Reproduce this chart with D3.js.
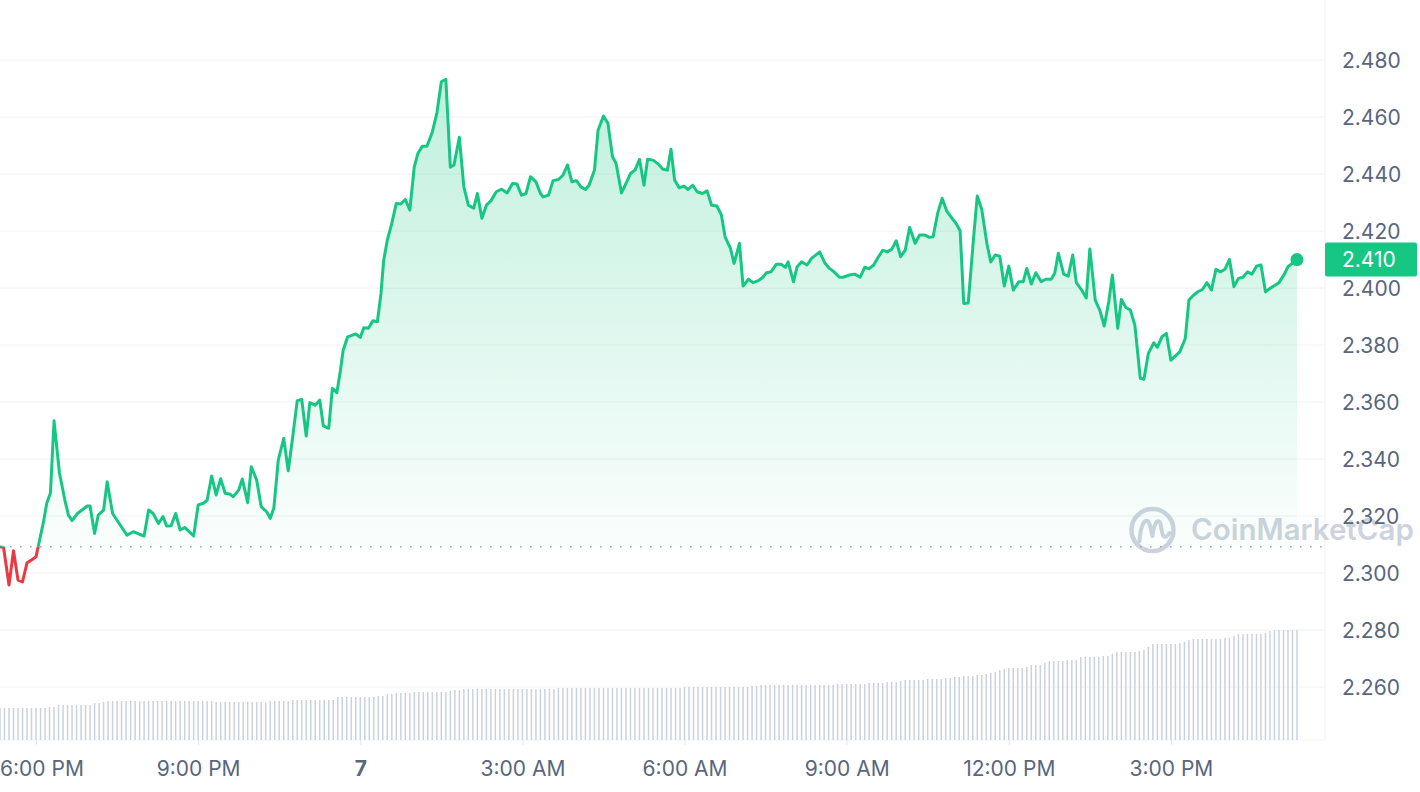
<!DOCTYPE html>
<html><head><meta charset="utf-8">
<script src="https://cdn.jsdelivr.net/npm/d3@7"></script>
<style>html,body{margin:0;padding:0;background:#fff;} svg{display:block;font-family:Inter,"Noto Sans",sans-serif;}</style>
</head><body><svg id="c" width="1420" height="792"></svg>
<script>
// ---------- DATA ----------
const priceMinutes = [0,4,10,15,20,25,30,35,40,48,52,56,60,66,72,76,80,86,91,97,100,105,109,115,119,125,131,141,148,154,160,165,170,176,181,185,190,195,200,205,210,215,220,226,230,235,240,245,250,255,259,265,269,275,279,285,290,296,300,304,309,315,320,325,330,335,340,344,350,355,359,365,369,374,378,381,386,395,400,404,409,414,419,423,426,430,435,440,445,450,455,460,464,469,474,480,485,490,495,500,504,510,515,520,526,530,535,540,545,551,557,563,569,574,579,584,589,595,600,603,609,614,620,625,630,635,640,645,650,654,660,664,670,675,680,684,690,695,700,705,710,715,719,725,731,736,741,745,749,754,759,764,769,774,780,785,790,796,801,805,811,815,821,825,831,836,842,847,851,856,862,867,872,875,881,885,890,896,901,907,910,916,921,926,932,936,943,949,955,960,965,970,975,980,985,990,995,1000,1005,1010,1016,1021,1027,1032,1036,1041,1046,1051,1057,1061,1066,1070,1075,1081,1085,1090,1096,1100,1105,1110,1115,1120,1125,1131,1136,1140,1145,1150,1156,1161,1167,1171,1175,1181,1186,1191,1195,1201,1206,1210,1216,1221,1226,1231,1235,1241,1245,1250,1255,1260,1266,1270,1275,1281,1285,1290,1295,1300,1306,1310,1316,1320,1325,1330,1335,1340,1345,1350,1355,1360,1365,1370,1375,1380,1385,1390,1395,1400,1405,1410,1416,1420,1426,1430,1440];
const priceValues = [2.3092,2.3089,2.2958,2.3078,2.2975,2.2969,2.3036,2.3046,2.3057,2.3175,2.3246,2.3281,2.3534,2.3351,2.3256,2.3203,2.3184,2.3209,2.3221,2.3235,2.3235,2.3139,2.3203,2.3221,2.3320,2.3209,2.3180,2.3133,2.3145,2.3137,2.3130,2.3221,2.3209,2.3174,2.3198,2.3165,2.3166,2.3209,2.3151,2.3160,2.3145,2.3130,2.3239,2.3245,2.3256,2.3340,2.3274,2.3331,2.3280,2.3277,2.3268,2.3291,2.3330,2.3247,2.3373,2.3326,2.3233,2.3215,2.3192,2.3227,2.3397,2.3473,2.3359,2.3478,2.3605,2.3609,2.3481,2.3598,2.3589,2.3607,2.3516,2.3508,2.3648,2.3633,2.3712,2.3782,2.3829,2.3839,2.3827,2.3861,2.3859,2.3885,2.3882,2.3981,2.4098,2.4168,2.4227,2.4297,2.4295,2.4311,2.4274,2.4426,2.4473,2.4498,2.4498,2.4548,2.4613,2.4724,2.4733,2.4424,2.4432,2.4529,2.4355,2.4291,2.4280,2.4332,2.4245,2.4291,2.4306,2.4338,2.4347,2.4334,2.4367,2.4365,2.4326,2.4332,2.4391,2.4373,2.4332,2.4320,2.4326,2.4377,2.4381,2.4396,2.4432,2.4373,2.4377,2.4355,2.4346,2.4361,2.4414,2.4554,2.4604,2.4578,2.4461,2.4438,2.4334,2.4367,2.4402,2.4414,2.4452,2.4361,2.4452,2.4449,2.4435,2.4417,2.4414,2.4487,2.4379,2.4352,2.4358,2.4346,2.4361,2.4338,2.4332,2.4341,2.4291,2.4288,2.4256,2.4180,2.4139,2.4087,2.4157,2.4007,2.4031,2.4019,2.4026,2.4038,2.4054,2.4057,2.4084,2.4084,2.4073,2.4092,2.4022,2.4075,2.4092,2.4081,2.4104,2.4119,2.4127,2.4087,2.4069,2.4057,2.4038,2.4038,2.4046,2.4049,2.4038,2.4073,2.4068,2.4081,2.4108,2.4133,2.4127,2.4136,2.4166,2.4110,2.4133,2.4213,2.4157,2.4186,2.4186,2.4178,2.4180,2.4262,2.4315,2.4271,2.4245,2.4229,2.4201,2.3946,2.3948,2.4180,2.4323,2.4276,2.4151,2.4092,2.4116,2.4112,2.4007,2.4077,2.3993,2.4022,2.4022,2.4069,2.4014,2.4054,2.4022,2.4031,2.4031,2.4052,2.4122,2.4049,2.4042,2.4116,2.4019,2.3993,2.3965,2.4137,2.3958,2.3923,2.3867,2.3952,2.4046,2.3859,2.3960,2.3932,2.3923,2.3870,2.3683,2.3680,2.3771,2.3808,2.3792,2.3829,2.3841,2.3747,2.3765,2.3777,2.3824,2.3958,2.3975,2.3987,2.3995,2.4019,2.3993,2.4066,2.4057,2.4066,2.4101,2.4005,2.4034,2.4038,2.4057,2.4049,2.4077,2.4081,2.3987,2.3999,2.4011,2.4019,2.4049,2.4075,2.4100];
// volume bars, one every 5 minutes (relative units)
const volumeValues = [
32,32,32,32,32,32,32,32,32,32,32,33,
33,35,35,35,35,35,35,35,35,37,37,38,
39,39,39,39,39,39,39,39,39,39,39,39,
39,39,39,39,39,39,39,39,39,39,39,39,
38,38,38,38,38,38,38,38,38,38,38,38,
39,39,39,39,39,40,40,40,40,40,40,40,
40,40,40,43,43,43,43,43,43,43,43,43,
44,44,46,46,47,47,47,47,48,48,48,48,
48,48,48,48,49,50,50,51,51,51,51,51,
51,51,51,51,51,51,51,51,51,51,51,51,
51,51,51,51,52,52,52,52,52,52,52,52,
52,52,52,52,52,52,52,52,52,52,52,52,
52,52,52,52,52,52,52,52,53,53,53,53,
53,53,53,53,53,53,53,53,53,53,53,54,
54,55,55,55,55,55,55,55,55,55,55,55,
55,55,55,55,55,55,56,56,56,56,56,56,
56,57,57,57,57,58,58,58,59,60,60,60,
60,60,61,61,61,61,62,62,63,63,64,64,
64,65,65,66,67,68,70,71,72,72,72,72,
73,75,75,75,77,79,79,79,79,80,80,80,
83,83,83,83,83,84,84,86,88,88,88,88,
88,89,90,93,96,96,96,96,96,96,97,98,
100,101,101,101,101,101,101,101,102,102,104,106,
106,106,106,106,106,107,109,110,110,110,110,110,
110];
const volumeStepMinutes = 5;
const yTickValues = [2.26,2.28,2.30,2.32,2.34,2.36,2.38,2.40,2.42,2.44,2.46,2.48];
const xTickMinutes = [40,220,400,580,760,940,1120,1300];
const xTickLabels = ["6:00 PM","9:00 PM","7","3:00 AM","6:00 AM","9:00 AM","12:00 PM","3:00 PM"];
const startTime = new Date(2024,0,6,17,20);
const windowMinutes = 1440;

// ---------- LAYOUT ----------
const W = 1420, H = 792;
const plotRight = 1325, plotBottom = 740, dataRight = 1297;
const GREEN = "#16c784", RED = "#ea3943", GRID = "#eff2f5", LABEL = "#58667e";

const tOf = m => new Date(startTime.getTime() + m*60000);
const data = priceMinutes.map((m,i)=>({t:tOf(m), p:priceValues[i]}));

const x = d3.scaleTime().domain([startTime, tOf(windowMinutes)]).range([0, dataRight]);
const y = d3.scaleLinear().domain([2.2414, 2.5011]).range([plotBottom, 0]);
const v = d3.scaleLinear().domain([0, 150]).range([plotBottom, plotBottom-150]);

const svg = d3.select("#c");
const defs = svg.append("defs");
const baseY = y(priceValues[0]);

defs.append("clipPath").attr("id","above").append("rect").attr("x",0).attr("y",0).attr("width",W).attr("height",baseY);
defs.append("clipPath").attr("id","below").append("rect").attr("x",0).attr("y",baseY).attr("width",W).attr("height",H-baseY);
const grad = defs.append("linearGradient").attr("id","fillg").attr("gradientUnits","userSpaceOnUse")
  .attr("x1",0).attr("x2",0).attr("y1",y(d3.max(priceValues))).attr("y2",baseY);
grad.append("stop").attr("offset","0%").attr("stop-color",GREEN).attr("stop-opacity",0.27);
grad.append("stop").attr("offset","100%").attr("stop-color",GREEN).attr("stop-opacity",0.02);

// grid
svg.append("g").selectAll("line").data(yTickValues).join("line")
  .attr("x1",0).attr("x2",plotRight).attr("y1",d=>y(d)).attr("y2",d=>y(d))
  .attr("stroke",GRID).attr("stroke-width",1);
svg.append("line").attr("x1",plotRight).attr("x2",plotRight).attr("y1",0).attr("y2",plotBottom).attr("stroke",GRID);
svg.append("line").attr("x1",0).attr("x2",plotRight).attr("y1",plotBottom).attr("y2",plotBottom).attr("stroke",GRID);

// volume bars
svg.append("g").selectAll("rect").data(volumeValues).join("rect")
  .attr("x",(d,i)=>x(tOf(i*volumeStepMinutes))-0.75)
  .attr("width",1.5)
  .attr("y",d=>v(d))
  .attr("height",d=>plotBottom-v(d))
  .attr("fill","#cbd2df");

// watermark
const wm = svg.append("g").attr("opacity",0.55);
wm.append("circle").attr("cx",1152.5).attr("cy",530).attr("r",21).attr("fill","none").attr("stroke","#a6b0c3").attr("stroke-width",4.5);
wm.append("path").attr("transform","translate(1152.5,530)")
  .attr("d","M-13,11 C-12,-2 -9,-11 -5,-9 C-2,-8 -1,4 0,6 C1,-4 4,-11 7,-8 C9,-6 9,4 11,6 C13,8 15,6 17,3")
  .attr("fill","none").attr("stroke","#a6b0c3").attr("stroke-width",4).attr("stroke-linecap","round").attr("stroke-linejoin","round");
wm.append("text").attr("x",1191).attr("y",540).attr("font-size",29.5).attr("font-weight",600)
  .attr("fill","#a6b0c3").text("CoinMarketCap");

// area
const area = d3.area().x(d=>x(d.t)).y0(baseY).y1(d=>y(d.p));
svg.append("path").datum(data).attr("d",area).attr("fill","url(#fillg)").attr("clip-path","url(#above)");

// dotted baseline
svg.append("line").attr("x1",0).attr("x2",plotRight).attr("y1",baseY).attr("y2",baseY)
  .attr("stroke","#a1a7bb").attr("stroke-width",1.6).attr("stroke-dasharray","1.6 8.4");

// lines
const line = d3.line().x(d=>x(d.t)).y(d=>y(d.p));
svg.append("path").datum(data).attr("d",line).attr("fill","none").attr("stroke",GREEN)
  .attr("stroke-width",3).attr("stroke-linejoin","round").attr("clip-path","url(#above)");
svg.append("path").datum(data).attr("d",line).attr("fill","none").attr("stroke",RED)
  .attr("stroke-width",3).attr("stroke-linejoin","round").attr("clip-path","url(#below)");

const last = data[data.length-1];
svg.append("circle").attr("cx",x(last.t)).attr("cy",y(last.p)).attr("r",6.5).attr("fill",GREEN);

// y axis
const yAxis = svg.append("g").attr("transform",`translate(${plotRight},0)`)
  .call(d3.axisRight(y).tickValues(yTickValues).tickFormat(d3.format(".3f")).tickSize(0).tickPadding(17));
yAxis.select(".domain").remove();
yAxis.selectAll("text").attr("font-size",21).attr("fill",LABEL).attr("font-family","Inter,'Noto Sans',sans-serif").attr("dy","0.36em");

// x axis
const xAxis = svg.append("g").attr("transform",`translate(0,${plotBottom})`)
  .call(d3.axisBottom(x).tickValues(xTickMinutes.map(tOf)).tickFormat((d,i)=>xTickLabels[i]).tickSize(5));
xAxis.select(".domain").remove();
xAxis.selectAll("line").attr("stroke","#e3e6eb");
xAxis.selectAll("text").attr("font-size",21).attr("fill",LABEL).attr("font-family","Inter,'Noto Sans',sans-serif")
  .attr("y",36).attr("dy",0)
  .attr("font-weight",(d,i)=>xTickLabels[i]==="7"?700:400);
xAxis.selectAll(".tick").each(function(){
  const t = d3.select(this).select("text").node();
  const bb = t.getBBox();
  const tx = +d3.select(this).attr("transform").match(/translate\(([-\d.]+)/)[1];
  if (tx + bb.x < 0) d3.select(t).attr("x", -(tx+bb.x));
});

// price label
const py = y(last.p);
svg.append("rect").attr("x",plotRight).attr("y",py-17).attr("width",92).attr("height",34).attr("rx",2).attr("fill",GREEN);
svg.append("text").attr("x",plotRight+17).attr("y",py).attr("dy","0.36em").attr("font-size",21)
  .attr("fill","#ffffff").text(d3.format(".3f")(last.p));
</script></body></html>
